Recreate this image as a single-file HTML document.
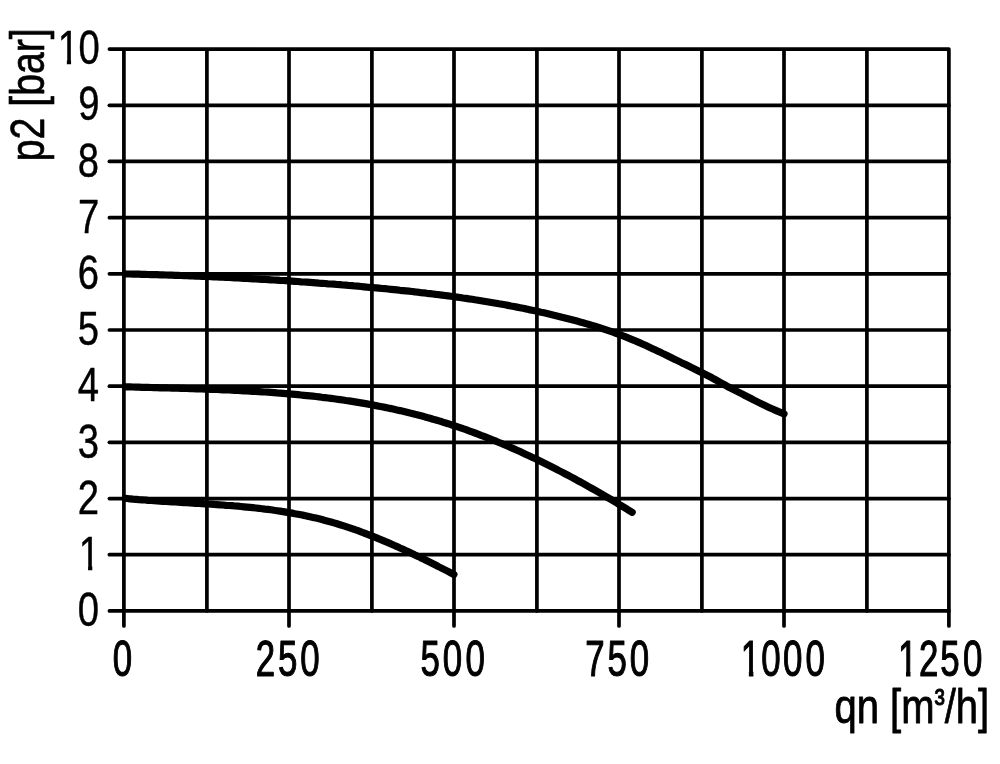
<!DOCTYPE html>
<html><head><meta charset="utf-8"><title>p2 vs qn</title>
<style>html,body{margin:0;padding:0;background:#fff;}body{width:1000px;height:764px;overflow:hidden;}svg{display:block;}</style>
</head><body>
<svg width="1000" height="764" viewBox="0 0 1000 764">
<rect width="1000" height="764" fill="#fff"/>
<g stroke="#000" stroke-width="3.7" stroke-linecap="round" stroke-linejoin="round" fill="none"><line x1="109.4" y1="610.90" x2="948.90" y2="610.90"/><line x1="109.4" y1="554.72" x2="948.90" y2="554.72"/><line x1="109.4" y1="498.54" x2="948.90" y2="498.54"/><line x1="109.4" y1="442.36" x2="948.90" y2="442.36"/><line x1="109.4" y1="386.18" x2="948.90" y2="386.18"/><line x1="109.4" y1="330.00" x2="948.90" y2="330.00"/><line x1="109.4" y1="273.82" x2="948.90" y2="273.82"/><line x1="109.4" y1="217.64" x2="948.90" y2="217.64"/><line x1="109.4" y1="161.46" x2="948.90" y2="161.46"/><line x1="109.4" y1="105.28" x2="948.90" y2="105.28"/><line x1="109.4" y1="49.10" x2="948.90" y2="49.10"/><line x1="123.90" y1="50.85" x2="123.90" y2="626.00"/><line x1="206.90" y1="50.85" x2="206.90" y2="610.90"/><line x1="289.00" y1="50.85" x2="289.00" y2="626.00"/><line x1="371.90" y1="50.85" x2="371.90" y2="610.90"/><line x1="454.00" y1="50.85" x2="454.00" y2="626.00"/><line x1="536.90" y1="50.85" x2="536.90" y2="610.90"/><line x1="619.00" y1="50.85" x2="619.00" y2="626.00"/><line x1="701.90" y1="50.85" x2="701.90" y2="610.90"/><line x1="784.00" y1="50.85" x2="784.00" y2="626.00"/><line x1="866.90" y1="50.85" x2="866.90" y2="610.90"/><line x1="948.90" y1="50.85" x2="948.90" y2="626.00"/></g>
<g stroke="#000" stroke-width="7.2" stroke-linecap="round" stroke-linejoin="round" fill="none" clip-path="url(#cc)">
<path d="M124.0,273.9 L127.0,274.0 L130.0,274.0 L133.0,274.1 L136.0,274.2 L139.0,274.2 L142.0,274.3 L145.0,274.4 L148.0,274.5 L151.0,274.6 L154.0,274.6 L157.0,274.7 L160.0,274.8 L163.0,274.9 L166.0,275.0 L169.0,275.1 L172.0,275.2 L175.0,275.3 L178.0,275.4 L181.0,275.5 L184.0,275.6 L187.0,275.7 L190.0,275.8 L193.0,275.9 L196.0,276.1 L199.0,276.2 L202.0,276.3 L205.0,276.4 L208.0,276.5 L211.0,276.7 L214.0,276.8 L217.0,276.9 L220.0,277.1 L223.0,277.2 L226.0,277.4 L229.0,277.5 L232.0,277.7 L235.0,277.8 L238.0,278.0 L241.0,278.1 L244.0,278.3 L247.0,278.4 L250.0,278.6 L253.0,278.8 L256.0,278.9 L259.0,279.1 L262.0,279.3 L265.0,279.4 L268.0,279.6 L271.0,279.8 L274.0,280.0 L277.0,280.2 L280.0,280.4 L283.0,280.5 L286.0,280.7 L289.0,280.9 L292.0,281.1 L295.0,281.3 L298.0,281.5 L301.0,281.8 L304.0,282.0 L307.0,282.2 L310.0,282.4 L313.0,282.6 L316.0,282.8 L319.0,283.1 L322.0,283.3 L325.0,283.5 L328.0,283.8 L331.0,284.0 L334.0,284.2 L337.0,284.5 L340.0,284.7 L343.0,285.0 L346.0,285.2 L349.0,285.5 L352.0,285.7 L355.0,286.0 L358.0,286.2 L361.0,286.5 L364.0,286.8 L367.0,287.1 L370.0,287.3 L373.0,287.6 L376.0,287.9 L379.0,288.2 L382.0,288.5 L385.0,288.7 L388.0,289.0 L391.0,289.3 L394.0,289.6 L397.0,289.9 L400.0,290.3 L403.0,290.6 L406.0,290.9 L409.0,291.2 L412.0,291.5 L415.0,291.9 L418.0,292.2 L421.0,292.6 L424.0,292.9 L427.0,293.3 L430.0,293.6 L433.0,294.0 L436.0,294.4 L439.0,294.7 L442.0,295.1 L445.0,295.5 L448.0,295.9 L451.0,296.3 L454.0,296.7 L457.0,297.1 L460.0,297.5 L463.0,298.0 L466.0,298.4 L469.0,298.9 L472.0,299.3 L475.0,299.8 L478.0,300.2 L481.0,300.7 L484.0,301.2 L487.0,301.7 L490.0,302.2 L493.0,302.7 L496.0,303.2 L499.0,303.8 L502.0,304.3 L505.0,304.8 L508.0,305.4 L511.0,306.0 L514.0,306.5 L517.0,307.1 L520.0,307.7 L523.0,308.3 L526.0,308.9 L529.0,309.6 L532.0,310.2 L535.0,310.8 L538.0,311.5 L541.0,312.2 L544.0,312.8 L547.0,313.5 L550.0,314.2 L553.0,315.0 L556.0,315.7 L559.0,316.4 L562.0,317.2 L565.0,317.9 L568.0,318.7 L571.0,319.5 L574.0,320.3 L577.0,321.1 L580.0,321.9 L583.0,322.7 L586.0,323.6 L589.0,324.5 L592.0,325.4 L595.0,326.3 L598.0,327.2 L601.0,328.2 L604.0,329.2 L607.0,330.2 L610.0,331.2 L613.0,332.2 L616.0,333.3 L619.0,334.4 L622.0,335.5 L625.0,336.7 L628.0,337.9 L631.0,339.1 L634.0,340.3 L637.0,341.6 L640.0,342.9 L643.0,344.2 L646.0,345.6 L649.0,347.0 L652.0,348.4 L655.0,349.8 L658.0,351.2 L661.0,352.6 L664.0,354.1 L667.0,355.5 L670.0,357.0 L673.0,358.5 L676.0,359.9 L679.0,361.4 L682.0,362.9 L685.0,364.3 L688.0,365.8 L691.0,367.3 L694.0,368.7 L697.0,370.2 L700.0,371.7 L703.0,373.2 L706.0,374.7 L709.0,376.2 L712.0,377.8 L715.0,379.5 L718.0,381.2 L721.0,382.9 L724.0,384.5 L727.0,386.2 L730.0,387.8 L733.0,389.4 L736.0,390.9 L739.0,392.4 L742.0,393.9 L745.0,395.5 L748.0,397.0 L751.0,398.5 L754.0,400.1 L757.0,401.6 L760.0,403.1 L763.0,404.6 L766.0,406.0 L769.0,407.4 L772.0,408.8 L775.0,410.1 L778.0,411.4 L781.0,412.6 L784.0,413.8"/>
<path d="M124.0,386.8 L127.0,386.8 L130.0,386.9 L133.0,387.0 L136.0,387.1 L139.0,387.2 L142.0,387.3 L145.0,387.4 L148.0,387.4 L151.0,387.5 L154.0,387.6 L157.0,387.7 L160.0,387.8 L163.0,387.8 L166.0,387.9 L169.0,388.0 L172.0,388.1 L175.0,388.2 L178.0,388.2 L181.0,388.3 L184.0,388.4 L187.0,388.5 L190.0,388.6 L193.0,388.7 L196.0,388.8 L199.0,388.9 L202.0,389.0 L205.0,389.1 L208.0,389.2 L211.0,389.3 L214.0,389.4 L217.0,389.5 L220.0,389.6 L223.0,389.8 L226.0,389.9 L229.0,390.0 L232.0,390.2 L235.0,390.3 L238.0,390.4 L241.0,390.6 L244.0,390.8 L247.0,390.9 L250.0,391.1 L253.0,391.3 L256.0,391.4 L259.0,391.6 L262.0,391.8 L265.0,392.0 L268.0,392.2 L271.0,392.4 L274.0,392.6 L277.0,392.9 L280.0,393.1 L283.0,393.3 L286.0,393.6 L289.0,393.9 L292.0,394.1 L295.0,394.4 L298.0,394.7 L301.0,395.0 L304.0,395.3 L307.0,395.6 L310.0,395.9 L313.0,396.2 L316.0,396.5 L319.0,396.9 L322.0,397.3 L325.0,397.6 L328.0,398.0 L331.0,398.4 L334.0,398.8 L337.0,399.2 L340.0,399.6 L343.0,400.0 L346.0,400.5 L349.0,400.9 L352.0,401.4 L355.0,401.9 L358.0,402.4 L361.0,402.9 L364.0,403.4 L367.0,403.9 L370.0,404.5 L373.0,405.0 L376.0,405.6 L379.0,406.2 L382.0,406.8 L385.0,407.4 L388.0,408.0 L391.0,408.6 L394.0,409.3 L397.0,410.0 L400.0,410.6 L403.0,411.3 L406.0,412.0 L409.0,412.8 L412.0,413.5 L415.0,414.3 L418.0,415.0 L421.0,415.8 L424.0,416.6 L427.0,417.5 L430.0,418.3 L433.0,419.2 L436.0,420.0 L439.0,420.9 L442.0,421.8 L445.0,422.8 L448.0,423.7 L451.0,424.7 L454.0,425.6 L457.0,426.6 L460.0,427.6 L463.0,428.7 L466.0,429.7 L469.0,430.8 L472.0,431.9 L475.0,433.0 L478.0,434.1 L481.0,435.3 L484.0,436.4 L487.0,437.6 L490.0,438.8 L493.0,440.0 L496.0,441.2 L499.0,442.5 L502.0,443.7 L505.0,445.0 L508.0,446.3 L511.0,447.6 L514.0,448.9 L517.0,450.2 L520.0,451.6 L523.0,453.0 L526.0,454.4 L529.0,455.8 L532.0,457.2 L535.0,458.6 L538.0,460.0 L541.0,461.5 L544.0,463.0 L547.0,464.5 L550.0,466.0 L553.0,467.5 L556.0,469.0 L559.0,470.6 L562.0,472.1 L565.0,473.7 L568.0,475.3 L571.0,476.9 L574.0,478.5 L577.0,480.2 L580.0,481.8 L583.0,483.4 L586.0,485.1 L589.0,486.8 L592.0,488.5 L595.0,490.2 L598.0,491.9 L601.0,493.6 L604.0,495.4 L607.0,497.1 L610.0,498.9 L613.0,500.7 L616.0,502.5 L619.0,504.3 L622.0,506.1 L625.0,507.9 L628.0,509.8 L631.0,511.6 L632.2,512.3"/>
<path d="M124.0,498.2 L127.0,498.5 L130.0,498.8 L133.0,499.1 L136.0,499.3 L139.0,499.6 L142.0,499.8 L145.0,500.0 L148.0,500.3 L151.0,500.5 L154.0,500.7 L157.0,500.9 L160.0,501.1 L163.0,501.3 L166.0,501.5 L169.0,501.7 L172.0,501.9 L175.0,502.0 L178.0,502.2 L181.0,502.4 L184.0,502.6 L187.0,502.7 L190.0,502.9 L193.0,503.1 L196.0,503.3 L199.0,503.5 L202.0,503.6 L205.0,503.8 L208.0,504.0 L211.0,504.2 L214.0,504.4 L217.0,504.6 L220.0,504.8 L223.0,505.0 L226.0,505.3 L229.0,505.5 L232.0,505.7 L235.0,506.0 L238.0,506.2 L241.0,506.5 L244.0,506.8 L247.0,507.1 L250.0,507.4 L253.0,507.7 L256.0,508.0 L259.0,508.3 L262.0,508.7 L265.0,509.1 L268.0,509.4 L271.0,509.8 L274.0,510.3 L277.0,510.7 L280.0,511.1 L283.0,511.6 L286.0,512.1 L289.0,512.6 L292.0,513.1 L295.0,513.7 L298.0,514.2 L301.0,514.8 L304.0,515.4 L307.0,516.1 L310.0,516.7 L313.0,517.4 L316.0,518.1 L319.0,518.8 L322.0,519.6 L325.0,520.4 L328.0,521.2 L331.0,522.0 L334.0,522.9 L337.0,523.8 L340.0,524.7 L343.0,525.6 L346.0,526.6 L349.0,527.6 L352.0,528.6 L355.0,529.7 L358.0,530.7 L361.0,531.8 L364.0,533.0 L367.0,534.1 L370.0,535.3 L373.0,536.4 L376.0,537.6 L379.0,538.9 L382.0,540.1 L385.0,541.4 L388.0,542.6 L391.0,543.9 L394.0,545.3 L397.0,546.6 L400.0,548.0 L403.0,549.3 L406.0,550.7 L409.0,552.1 L412.0,553.5 L415.0,555.0 L418.0,556.4 L421.0,557.9 L424.0,559.3 L427.0,560.8 L430.0,562.3 L433.0,563.8 L436.0,565.3 L439.0,566.9 L442.0,568.4 L445.0,569.9 L448.0,571.4 L451.0,573.0 L453.9,574.4"/>
</g>
<g font-family="Liberation Sans, Arial, sans-serif" fill="#000" stroke="#000" stroke-linejoin="round">
<g transform="translate(0,626.10) scale(0.8,1)"><text x="110.62" y="0" font-size="47.8" stroke-width="0.4" vector-effect="non-scaling-stroke" text-anchor="middle">0</text></g>
<g transform="translate(0,569.92) scale(0.8,1)"><text x="111.88" y="0" font-size="47.8" stroke-width="0.4" vector-effect="non-scaling-stroke" text-anchor="middle" clip-path="url(#c1)">1</text></g>
<g transform="translate(0,513.74) scale(0.8,1)"><text x="110.62" y="0" font-size="47.8" stroke-width="0.4" vector-effect="non-scaling-stroke" text-anchor="middle">2</text></g>
<g transform="translate(0,457.56) scale(0.8,1)"><text x="110.62" y="0" font-size="47.8" stroke-width="0.4" vector-effect="non-scaling-stroke" text-anchor="middle">3</text></g>
<g transform="translate(0,401.38) scale(0.8,1)"><text x="110.62" y="0" font-size="47.8" stroke-width="0.4" vector-effect="non-scaling-stroke" text-anchor="middle">4</text></g>
<g transform="translate(0,345.20) scale(0.8,1)"><text x="110.50" y="0" font-size="47.8" stroke-width="0.4" vector-effect="non-scaling-stroke" text-anchor="middle">5</text></g>
<g transform="translate(0,289.02) scale(0.8,1)"><text x="110.62" y="0" font-size="47.8" stroke-width="0.4" vector-effect="non-scaling-stroke" text-anchor="middle">6</text></g>
<g transform="translate(0,232.84) scale(0.8,1)"><text x="110.88" y="0" font-size="47.8" stroke-width="0.4" vector-effect="non-scaling-stroke" text-anchor="middle">7</text></g>
<g transform="translate(0,176.66) scale(0.8,1)"><text x="110.62" y="0" font-size="47.8" stroke-width="0.4" vector-effect="non-scaling-stroke" text-anchor="middle">8</text></g>
<g transform="translate(0,120.48) scale(0.8,1)"><text x="111.25" y="0" font-size="47.8" stroke-width="0.4" vector-effect="non-scaling-stroke" text-anchor="middle">9</text></g>
<g transform="translate(0,64.30) scale(0.8,1)"><text x="85.37 111.56" y="0" font-size="47.8" stroke-width="0.4" vector-effect="non-scaling-stroke" text-anchor="middle" clip-path="url(#c2)">10</text></g>
<g transform="translate(0,676.00) scale(0.708,1)"><text x="173.09" y="0" font-size="49.2" stroke-width="1.0" vector-effect="non-scaling-stroke" text-anchor="middle">0</text></g>
<g transform="translate(0,676.00) scale(0.708,1)"><text x="375.00 406.21 437.71" y="0" font-size="49.2" stroke-width="1.0" vector-effect="non-scaling-stroke" text-anchor="middle">250</text></g>
<g transform="translate(0,676.00) scale(0.708,1)"><text x="607.63 638.98 671.19" y="0" font-size="49.2" stroke-width="1.0" vector-effect="non-scaling-stroke" text-anchor="middle">500</text></g>
<g transform="translate(0,676.00) scale(0.708,1)"><text x="840.40 871.75 903.25" y="0" font-size="49.2" stroke-width="1.0" vector-effect="non-scaling-stroke" text-anchor="middle">750</text></g>
<g transform="translate(0,676.00) scale(0.708,1)"><text x="1060.03 1089.05 1119.63 1151.48" y="0" font-size="49.2" stroke-width="1.0" vector-effect="non-scaling-stroke" text-anchor="middle" clip-path="url(#c3)">1000</text></g>
<g transform="translate(0,676.00) scale(0.708,1)"><text x="1281.92 1311.58 1341.81 1374.01" y="0" font-size="49.2" stroke-width="1.0" vector-effect="non-scaling-stroke" text-anchor="middle" clip-path="url(#c4)">1250</text></g>
<text font-size="49" stroke-width="0.8" vector-effect="non-scaling-stroke" transform="translate(989.2,722.9) scale(0.816,1)" text-anchor="end">qn [m<tspan font-size="38" dy="-7.5">³</tspan><tspan dy="7.5">/h]</tspan></text>
<text font-size="47.8" stroke-width="0.6" vector-effect="non-scaling-stroke" transform="translate(43.6,161.3) rotate(-90) scale(0.821,1)">p2 [bar]</text>
</g>
<defs><clipPath id="cc"><rect x="122.3" y="0" width="877.7" height="764"/></clipPath><clipPath id="c1" clipPathUnits="userSpaceOnUse"><path clip-rule="evenodd" d="M-2000,-2000H3000V2000H-2000Z M100.12,-4.87H110.10V1.40H100.12Z M115.33,-4.87H124.63V1.40H115.33Z"/></clipPath><clipPath id="c2" clipPathUnits="userSpaceOnUse"><path clip-rule="evenodd" d="M-2000,-2000H3000V2000H-2000Z M73.62,-4.87H83.60V1.40H73.62Z M88.83,-4.87H98.13V1.40H88.83Z"/></clipPath><clipPath id="c3" clipPathUnits="userSpaceOnUse"><path clip-rule="evenodd" d="M-2000,-2000H3000V2000H-2000Z M1047.54,-5.28H1057.76V1.70H1047.54Z M1064.02,-5.28H1073.56V1.70H1064.02Z"/></clipPath><clipPath id="c4" clipPathUnits="userSpaceOnUse"><path clip-rule="evenodd" d="M-2000,-2000H3000V2000H-2000Z M1269.43,-5.28H1279.66V1.70H1269.43Z M1285.92,-5.28H1295.46V1.70H1285.92Z"/></clipPath></defs>
</svg>
</body></html>
